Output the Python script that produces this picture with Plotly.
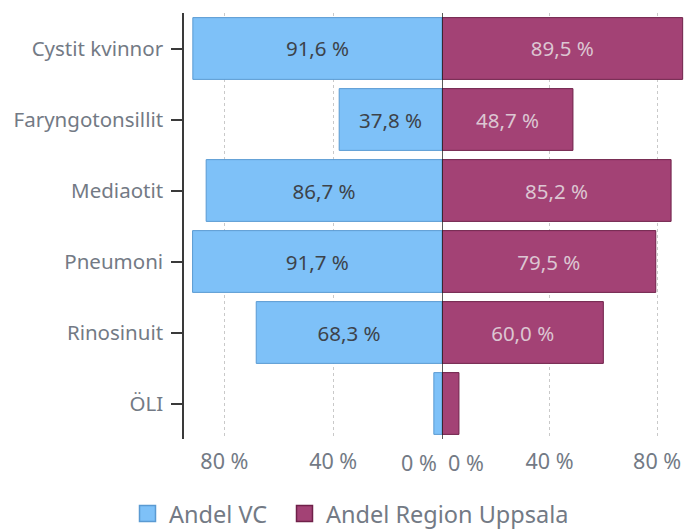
import plotly.graph_objects as go

categories = ["Cystit kvinnor", "Faryngotonsillit", "Mediaotit", "Pneumoni", "Rinosinuit", "ÖLI"]
andel_vc = [91.6, 37.8, 86.7, 91.7, 68.3, 3.0]
andel_region = [89.5, 48.7, 85.2, 79.5, 60.0, 6.3]
tick_vals = [40, 80]
tick_text = ["40 %", "80 %"]
zero_label = "0 %"
series_names = ["Andel VC", "Andel Region Uppsala"]

FONT = "Noto Sans"
GREY = "#737a85"
BLUE, BLUE_LINE = "#7ec1f8", "#5a9ad2"
PLUM, PLUM_LINE = "#a34275", "#6f2049"


def fmt(v):
    return (f"{v:.1f}".replace(".", ",") + " %") if v >= 10 else ""


fig = go.Figure()
fig.add_trace(go.Bar(
    name=series_names[0], y=categories, x=andel_vc, orientation="h",
    xaxis="x", yaxis="y", showlegend=False,
    marker=dict(color=BLUE, line=dict(color=BLUE_LINE, width=1)),
    text=[fmt(v) for v in andel_vc], textposition="inside",
    insidetextanchor="middle", textangle=0,
    textfont=dict(family=FONT, size=20.5, color="#3d434a"),
    width=0.87,
))
fig.add_trace(go.Bar(
    name=series_names[1], y=categories, x=andel_region, orientation="h",
    xaxis="x2", yaxis="y", showlegend=False,
    marker=dict(color=PLUM, line=dict(color=PLUM_LINE, width=1)),
    text=[fmt(v) for v in andel_region], textposition="inside",
    insidetextanchor="middle", textangle=0,
    textfont=dict(family=FONT, size=20.5, color="#dcc6d2"),
    width=0.87,
))
# legend entries with larger square swatches (one legend box each)
for name, c, lc, lg in [(series_names[0], BLUE, BLUE_LINE, "legend"),
                        (series_names[1], PLUM, PLUM_LINE, "legend2")]:
    fig.add_trace(go.Scatter(
        x=[None], y=[None], mode="markers", name=name, xaxis="x", yaxis="y",
        marker=dict(symbol="square", size=20, color=c, line=dict(color=lc, width=1.5)),
        showlegend=True, hoverinfo="skip", legend=lg,
    ))

H = 536  # slightly taller than the window so the legend fits without pushing margins
TOP, BOTTOM = 13, 441
plot_h = BOTTOM - TOP
split = (442 - 184) / 500.0
grid = dict(showgrid=True, gridcolor="#c9c9c9", griddash="3px,3px", gridwidth=1,
            zeroline=False, showline=False, ticks="", automargin=False,
            ticklabelstandoff=7,
            tickfont=dict(family=FONT, size=21.5, color=GREY),
            tickmode="array", tickvals=tick_vals, ticktext=tick_text)
leg = dict(orientation="h", xanchor="left", y=-(516 - BOTTOM) / plot_h, yanchor="middle",
           font=dict(family=FONT, size=23.5, color=GREY), itemwidth=33,
           bgcolor="rgba(0,0,0,0)")
fig.update_layout(
    template="none",
    width=684, height=H,
    margin=dict(l=184, r=0, t=TOP, b=H - BOTTOM),
    paper_bgcolor="white", plot_bgcolor="white",
    font=dict(family=FONT, color=GREY),
    barmode="overlay",
    xaxis=dict(domain=[0, split], range=[94.85, 0], anchor="y", **grid),
    xaxis2=dict(domain=[split, 1], range=[0, 90], anchor="y", **grid),
    yaxis=dict(categoryorder="array", categoryarray=categories[::-1],
               showline=True, linecolor="#3a3a3a", linewidth=1.5, automargin=False,
               ticks="outside", ticklen=11, tickcolor="#3a3a3a", tickwidth=1.5,
               ticklabelstandoff=4,
               tickfont=dict(family=FONT, size=20.5, color=GREY), showgrid=False,
               zeroline=False),
    legend=dict(x=(126 - 184) / 500, **leg),
    legend2=dict(x=(283 - 184) / 500, **leg),
    showlegend=True,
    shapes=[dict(type="line", xref="x2", yref="y domain", x0=0, x1=0, y0=0, y1=1,
                 line=dict(color="#222222", width=1.5))],
    annotations=[
        dict(text=zero_label, xref="x", x=0, yref="paper", y=0, xanchor="right", yanchor="top",
             xshift=-3, yshift=-7, showarrow=False, font=dict(family=FONT, size=21.5, color=GREY)),
        dict(text=zero_label, xref="x2", x=0, yref="paper", y=0, xanchor="left", yanchor="top",
             xshift=4, yshift=-7, showarrow=False, font=dict(family=FONT, size=21.5, color=GREY)),
    ],
)

fig.write_html("out.html", config={"displayModeBar": False},
               post_script="document.body.style.margin='0';")
